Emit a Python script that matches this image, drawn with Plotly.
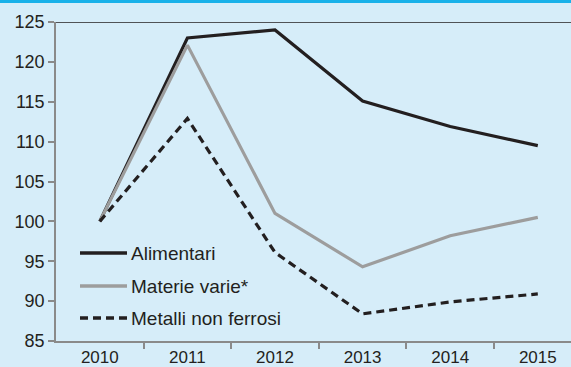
import plotly.graph_objects as go

# Index 2010 = 100
years = ["2010", "2011", "2012", "2013", "2014", "2015"]
alimentari = [100, 123.0, 124.0, 115.1, 111.9, 109.5]
materie_varie = [100, 122.1, 101.0, 94.3, 98.2, 100.5]
metalli_non_ferrosi = [100, 112.9, 96.1, 88.4, 89.9, 90.9]

y_ticks = [85, 90, 95, 100, 105, 110, 115, 120, 125]

bg = "#d6edf9"
ink = "#231f20"
grey = "#9d9d9d"
axis_grey = "#8a8a8a"
xpos = list(range(len(years)))

# plot area geometry (px) used for placing the hand-drawn legend
L, R, T, B = 56, 571, 22, 341


def px_x(x):
    return (x - L) / (R - L)


def px_y(y):
    return (B - y) / (B - T)


series = [
    ("Alimentari", alimentari, dict(color=ink, width=3.2)),
    ("Materie varie*", materie_varie, dict(color=grey, width=3.2)),
    ("Metalli non ferrosi", metalli_non_ferrosi, dict(color=ink, width=3.2, dash="8px,5px")),
]

fig = go.Figure()
for name, vals, line in series:
    fig.add_trace(go.Scatter(x=xpos, y=vals, name=name, mode="lines", line=line,
                             showlegend=False))

shapes = [
    # top frame line
    dict(type="line", xref="paper", yref="y", x0=0, x1=1, y0=125, y1=125,
         line=dict(color=ink, width=1.5)),
    # blue band at the very top
    dict(type="rect", xref="paper", yref="paper", x0=-0.2, x1=1.1,
         y0=px_y(3), y1=px_y(-1), fillcolor="#19b1e9", line=dict(width=0),
         layer="above"),
]
annotations = []
legend_rows = [253, 286, 318]
for (name, _, line), yrow in zip(series, legend_rows):
    shapes.append(dict(type="line", xref="paper", yref="paper",
                       x0=px_x(80), x1=px_x(127), y0=px_y(yrow), y1=px_y(yrow),
                       line=dict(color=line["color"], width=3.4, dash=line.get("dash", "solid"))))
    annotations.append(dict(xref="paper", yref="paper", x=px_x(129), y=px_y(yrow),
                            xanchor="left", yanchor="middle", text=name, showarrow=False,
                            font=dict(size=19, color=ink)))

fig.update_layout(
    width=571, height=367,
    margin=dict(l=L, r=0, t=T, b=367 - B),
    paper_bgcolor=bg, plot_bgcolor=bg,
    font=dict(family="Liberation Sans, Arial, sans-serif", size=18, color=ink),
    showlegend=False,
    xaxis=dict(range=[-0.5, 5.379], tickvals=xpos, ticktext=years, ticks="",
               automargin=False,
               showgrid=False, zeroline=False, showline=True, linecolor=axis_grey,
               linewidth=1.5, tickfont=dict(size=17),
               minor=dict(tickvals=[0.5, 1.5, 2.5, 3.5, 4.5], ticks="outside",
                          ticklen=6, tickcolor=axis_grey, tickwidth=1.5, showgrid=False)),
    yaxis=dict(range=[85, 125], tickvals=y_ticks, ticks="outside", ticklen=6,
               automargin=False,
               tickcolor=axis_grey, tickwidth=1.5, showgrid=False, zeroline=False,
               showline=True, linecolor=axis_grey, linewidth=1.5,
               tickfont=dict(size=18)),
    shapes=shapes,
    annotations=annotations,
)

fig.write_html("out.html")
